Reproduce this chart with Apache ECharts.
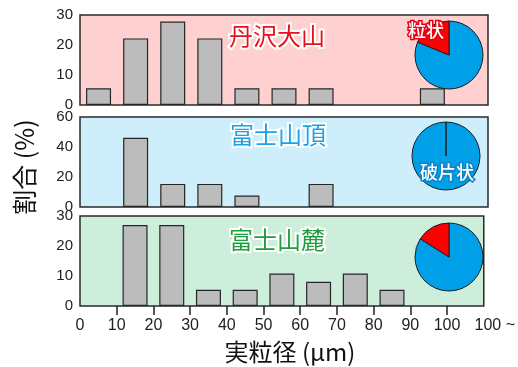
<!DOCTYPE html>
<html>
<head>
<meta charset="utf-8">
<script src="https://cdn.jsdelivr.net/npm/echarts@6/dist/echarts.min.js"></script>
<style>
  html, body { margin: 0; padding: 0; background: #ffffff; }
  #chart { width: 518px; height: 367px; }
</style>
</head>
<body>
<div id="chart"></div>
<script>
// Particle-size bins (μm): 0-10, 10-20, ..., 90-100, 100 ~ ; bars sit at bin centres
const binCenters = [5, 15, 25, 35, 45, 55, 65, 75, 85, 95, 105];
const xTickValues = [0, 10, 20, 30, 40, 50, 60, 70, 80, 90, 100, 110];
const xTickMarks = [10, 20, 30, 40, 50, 60, 70, 80, 90, 100];

// Share of particles per bin (%)
const tanzawaOyama = [5.6, 22.2, 27.8, 22.2, 5.6, 5.6, 5.6, 0, 0, 5.6, 0];
const fujiSummit   = [0, 46.2, 15.4, 15.4, 7.7, 0, 15.4, 0, 0, 0, 0];
const fujiFoot     = [0, 27.0, 27.0, 5.4, 5.4, 10.8, 8.1, 10.8, 5.4, 0, 0];

const siteNames = ['丹沢大山', '富士山頂', '富士山麓'];
const siteColors = ['#e8101c', '#1ba2e6', '#1f9e3e'];
const panelFills = ['#ffd0d0', '#cdeefa', '#cdeedb'];

// Particle shape ratio (%): [破片状, 粒状]
const shapeNames = ['破片状', '粒状'];
const shapeTanzawa = [81.2, 18.8];
const shapeSummit  = [100, 0];
const shapeFoot    = [84, 16];

const yMaxes = [30, 60, 30];
const ySteps = [10, 20, 10];

const histograms = [tanzawaOyama, fujiSummit, fujiFoot];
const shapes = [shapeTanzawa, shapeSummit, shapeFoot];

const numFont = '"Liberation Sans", Arial, sans-serif';
const jpFont = '"Noto Sans CJK JP", sans-serif';

const gridBoxes = [
  { left: 80, top: 15, width: 408, height: 90 },
  { left: 80, top: 117, width: 408, height: 90 },
  { left: 80, top: 216, width: 408, height: 90 }
];
const pieCenters = [[449, 55], [446, 156], [449, 257]];

const grids = gridBoxes.map((b, i) => Object.assign({
  show: true,
  backgroundColor: panelFills[i],
  borderColor: '#2a2a2a',
  borderWidth: 1.5
}, b));

const xAxes = gridBoxes.map((b, i) => {
  const isBottom = i === 2;
  return {
    type: 'value',
    gridIndex: i,
    min: 0,
    max: 110,
    interval: 10,
    axisLine: { show: false },
    splitLine: { show: false },
    axisTick: isBottom ? {
      show: true, inside: false, length: 9,
      customValues: xTickMarks,
      lineStyle: { color: '#222', width: 1.5 }
    } : { show: false },
    axisLabel: isBottom ? {
      show: true,
      customValues: xTickValues,
      margin: 12,
      fontSize: 16,
      color: '#222',
      fontFamily: numFont,
      formatter: v => (v === 110 ? '{s|100 ~}' : String(v)),
      rich: { s: { fontSize: 16, color: '#222', fontFamily: numFont, padding: [0, 0, 0, 22] } }
    } : { show: false }
  };
});

const yAxes = gridBoxes.map((b, i) => ({
  type: 'value',
  gridIndex: i,
  min: 0,
  max: yMaxes[i],
  interval: ySteps[i],
  axisLine: { show: false },
  axisTick: { show: false },
  splitLine: { show: false },
  axisLabel: { fontSize: 15, color: '#222', fontFamily: numFont, margin: 7 }
}));

const barSeries = histograms.map((vals, i) => ({
  type: 'bar',
  xAxisIndex: i,
  yAxisIndex: i,
  barWidth: 25,
  silent: true,
  itemStyle: { color: '#bcbcbc', borderColor: '#262626', borderWidth: 1.2 },
  data: binCenters.map((c, k) => [c, vals[k]]).filter(d => d[1] > 0)
}));

const pieSeries = shapes.map((vals, i) => ({
  type: 'pie',
  center: pieCenters[i],
  radius: 34,
  startAngle: 90,
  clockwise: true,
  silent: true,
  label: { show: false },
  labelLine: { show: false },
  emphasis: { disabled: true },
  itemStyle: { borderColor: '#1e1e1e', borderWidth: 1 },
  data: [
    { name: shapeNames[0], value: vals[0], itemStyle: { color: '#00a0e9' } },
    { name: shapeNames[1], value: vals[1], itemStyle: { color: '#ff0000' } }
  ]
}));

const siteTitlePos = [[277, 36], [278, 135], [277, 240]];
const graphics = siteNames.map((name, i) => ({
  type: 'text',
  x: siteTitlePos[i][0],
  y: siteTitlePos[i][1],
  z: 10,
  style: {
    text: name,
    fill: siteColors[i],
    stroke: '#ffffff',
    lineWidth: 4,
    font: '24px ' + jpFont,
    align: 'center',
    verticalAlign: 'middle'
  }
}));

graphics.push(
  {
    type: 'text', x: 426, y: 30, z: 10,
    style: {
      text: shapeNames[1], fill: '#ffffff', stroke: '#e60012', lineWidth: 3,
      font: '500 18px ' + jpFont, align: 'center', verticalAlign: 'middle'
    }
  },
  {
    type: 'text', x: 447, y: 172, z: 10,
    style: {
      text: shapeNames[0], fill: '#ffffff', stroke: '#0a86c8', lineWidth: 3,
      font: '500 18px ' + jpFont, align: 'center', verticalAlign: 'middle'
    }
  },
  {
    type: 'text', x: 24, y: 167, rotation: Math.PI / 2,
    style: {
      text: '割合 (%)', fill: '#111', font: '25px ' + jpFont,
      align: 'center', verticalAlign: 'middle'
    }
  },
  {
    type: 'text', x: 290, y: 352,
    style: {
      text: '実粒径 (μm)', fill: '#111', font: '24px ' + jpFont,
      align: 'center', verticalAlign: 'middle'
    }
  }
);

const chart = echarts.init(document.getElementById('chart'), null, { renderer: 'canvas' });
chart.setOption({
  animation: false,
  backgroundColor: '#ffffff',
  grid: grids,
  xAxis: xAxes,
  yAxis: yAxes,
  series: barSeries.concat(pieSeries),
  graphic: graphics
});
</script>
</body>
</html>
